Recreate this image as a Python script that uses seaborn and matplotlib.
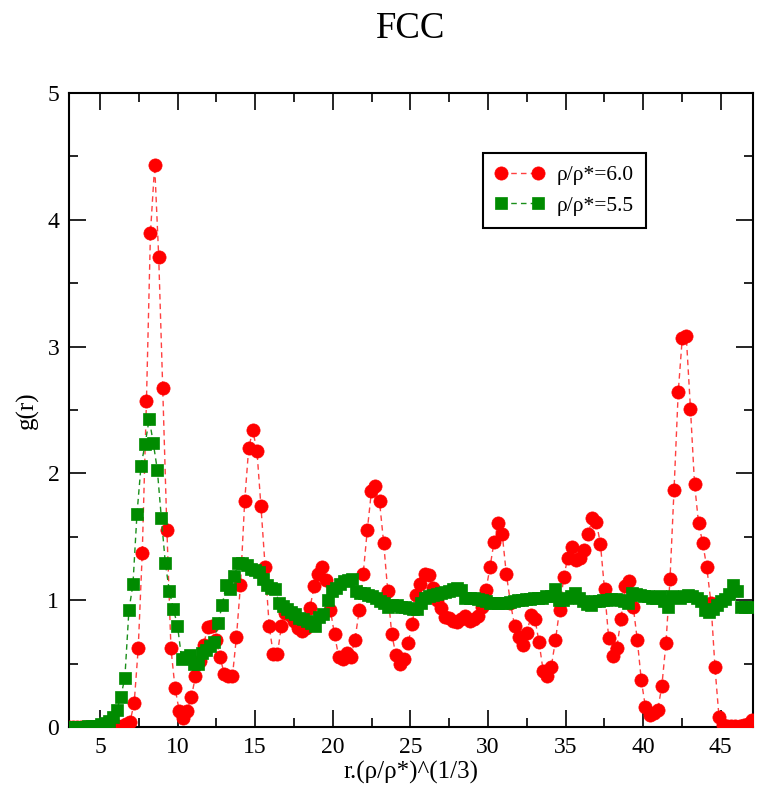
import matplotlib
matplotlib.use("Agg")
import matplotlib.pyplot as plt
import seaborn as sns
import pandas as pd

# ---- data ----
red_x = [2.98, 3.24, 3.51, 3.77, 4.03, 4.30, 4.56, 4.83, 5.09, 5.35,
         5.62, 5.88, 6.14, 6.41, 6.67, 6.93, 7.20, 7.46, 7.72, 7.99,
         8.25, 8.52, 8.78, 9.04, 9.31, 9.57, 9.83, 10.10, 10.36, 10.62,
         10.89, 11.15, 11.42, 11.68, 11.94, 12.21, 12.47, 12.74, 13.00, 13.26,
         13.53, 13.79, 14.05, 14.32, 14.58, 14.84, 15.11, 15.37, 15.64, 15.90,
         16.16, 16.43, 16.69, 16.95, 17.22, 17.48, 17.74, 18.01, 18.27, 18.53,
         18.80, 19.06, 19.32, 19.59, 19.85, 20.11, 20.38, 20.64, 20.90, 21.17,
         21.43, 21.70, 21.96, 22.22, 22.49, 22.75, 23.01, 23.28, 23.54, 23.80,
         24.07, 24.33, 24.60, 24.86, 25.12, 25.39, 25.65, 25.91, 26.18, 26.44,
         26.70, 26.97, 27.23, 27.49, 27.76, 28.02, 28.28, 28.55, 28.81, 29.08,
         29.34, 29.60, 29.87, 30.13, 30.39, 30.66, 30.92, 31.18, 31.45, 31.71,
         31.98, 32.24, 32.50, 32.77, 33.03, 33.29, 33.56, 33.82, 34.08, 34.35,
         34.61, 34.88, 35.14, 35.40, 35.67, 35.93, 36.19, 36.46, 36.72, 36.98,
         37.25, 37.51, 37.78, 38.04, 38.30, 38.57, 38.83, 39.09, 39.36, 39.62,
         39.88, 40.15, 40.41, 40.67, 40.94, 41.20, 41.47, 41.73, 41.99, 42.26,
         42.52, 42.78, 43.05, 43.31, 43.57, 43.84, 44.10, 44.37, 44.63, 44.89,
         45.16, 45.42, 45.68, 45.95, 46.21, 46.47, 46.74, 47.00]
red_y = [0.0, 0.0, 0.0, 0.0, 0.0, 0.0, 0.0, 0.0, 0.0, 0.0,
         0.0, 0.0, 0.005, 0.01, 0.02, 0.04, 0.19, 0.62, 1.37, 2.57,
         3.90, 4.43, 3.71, 2.67, 1.55, 0.62, 0.31, 0.13, 0.07, 0.13,
         0.24, 0.40, 0.52, 0.65, 0.79, 0.80, 0.69, 0.55, 0.42, 0.40,
         0.40, 0.71, 1.12, 1.78, 2.20, 2.34, 2.18, 1.74, 1.26, 0.80,
         0.575, 0.575, 0.80, 0.90, 0.88, 0.84, 0.78, 0.76, 0.78, 0.94,
         1.11, 1.21, 1.26, 1.16, 0.92, 0.73, 0.555, 0.54, 0.586, 0.555,
         0.69, 0.92, 1.21, 1.55, 1.86, 1.90, 1.78, 1.45, 1.075, 0.73,
         0.57, 0.50, 0.54, 0.665, 0.81, 1.04, 1.13, 1.21, 1.20, 1.10,
         1.00, 0.94, 0.87, 0.857, 0.84, 0.83, 0.85, 0.875, 0.84, 0.85,
         0.875, 0.95, 1.08, 1.26, 1.46, 1.61, 1.52, 1.21, 0.98, 0.80,
         0.71, 0.65, 0.74, 0.88, 0.85, 0.67, 0.44, 0.40, 0.475, 0.686,
         0.92, 1.18, 1.335, 1.42, 1.32, 1.33, 1.40, 1.52, 1.645, 1.62,
         1.44, 1.086, 0.70, 0.56, 0.625, 0.85, 1.11, 1.15, 0.95, 0.69,
         0.37, 0.155, 0.095, 0.11, 0.134, 0.32, 0.66, 1.165, 1.87, 2.64,
         3.065, 3.08, 2.51, 1.92, 1.61, 1.45, 1.26, 0.98, 0.47, 0.076,
         0.016, 0.01, 0.01, 0.01, 0.01, 0.015, 0.025, 0.055]

green_x = [2.94, 3.20, 3.46, 3.72, 3.99, 4.25, 4.51, 4.77, 5.03, 5.29,
           5.55, 5.81, 6.08, 6.34, 6.60, 6.86, 7.12, 7.38, 7.64, 7.90,
           8.17, 8.43, 8.69, 8.95, 9.21, 9.47, 9.73, 9.99, 10.26, 10.52,
           10.78, 11.04, 11.30, 11.56, 11.82, 12.09, 12.35, 12.61, 12.87, 13.13,
           13.39, 13.65, 13.91, 14.18, 14.44, 14.70, 14.96, 15.22, 15.48, 15.74,
           16.01, 16.27, 16.53, 16.79, 17.05, 17.31, 17.57, 17.83, 18.10, 18.36,
           18.62, 18.88, 19.14, 19.40, 19.66, 19.92, 20.19, 20.45, 20.71, 20.97,
           21.23, 21.49, 21.75, 22.01, 22.28, 22.54, 22.80, 23.06, 23.32, 23.58,
           23.84, 24.11, 24.37, 24.63, 24.89, 25.15, 25.41, 25.67, 25.93, 26.20,
           26.46, 26.72, 26.98, 27.24, 27.50, 27.76, 28.02, 28.29, 28.55, 28.81,
           29.07, 29.33, 29.59, 29.85, 30.12, 30.38, 30.64, 30.90, 31.16, 31.42,
           31.68, 31.94, 32.21, 32.47, 32.73, 32.99, 33.25, 33.51, 33.77, 34.03,
           34.30, 34.56, 34.82, 35.08, 35.34, 35.60, 35.86, 36.13, 36.39, 36.65,
           36.91, 37.17, 37.43, 37.69, 37.95, 38.22, 38.48, 38.74, 39.00, 39.26,
           39.52, 39.78, 40.05, 40.31, 40.57, 40.83, 41.09, 41.35, 41.61, 41.87,
           42.14, 42.40, 42.66, 42.92, 43.18, 43.44, 43.70, 43.96, 44.23, 44.49,
           44.75, 45.01, 45.27, 45.53, 45.79, 46.06, 46.32, 46.58, 46.84]
green_y = [0.0, 0.0, 0.0, 0.0, 0.0, 0.005, 0.005, 0.01, 0.02, 0.03,
           0.05, 0.08, 0.134, 0.24, 0.39, 0.92, 1.125, 1.68, 2.06, 2.23,
           2.43, 2.24, 2.03, 1.65, 1.29, 1.07, 0.93, 0.80, 0.54, 0.555,
           0.57, 0.50, 0.50, 0.58, 0.61, 0.64, 0.67, 0.82, 0.96, 1.12,
           1.09, 1.19, 1.29, 1.29, 1.28, 1.25, 1.24, 1.225, 1.17, 1.12,
           1.10, 1.09, 0.98, 0.955, 0.93, 0.91, 0.89, 0.86, 0.85, 0.84,
           0.82, 0.80, 0.87, 0.89, 1.00, 1.07, 1.10, 1.13, 1.15, 1.16,
           1.17, 1.07, 1.055, 1.055, 1.04, 1.03, 1.02, 0.99, 0.975, 0.95,
           0.96, 0.96, 0.95, 0.945, 0.94, 0.93, 0.93, 0.98, 1.015, 1.03,
           1.04, 1.05, 1.06, 1.067, 1.075, 1.085, 1.094, 1.08, 1.02, 1.02,
           1.02, 1.01, 1.00, 0.99, 0.98, 0.975, 0.975, 0.975, 0.98, 0.985,
           0.99, 1.00, 1.005, 1.01, 1.01, 1.015, 1.015, 1.015, 1.03, 1.03,
           1.086, 1.00, 1.00, 1.015, 1.03, 1.054, 1.015, 0.99, 0.97, 0.96,
           0.99, 0.99, 1.00, 1.005, 1.007, 1.007, 1.00, 0.99, 0.975, 1.06,
           1.05, 1.04, 1.03, 1.03, 1.015, 1.02, 1.03, 0.99, 0.945, 1.03,
           1.025, 1.02, 1.03, 1.04, 1.035, 1.02, 0.99, 0.92, 0.91, 0.93,
           0.96, 0.99, 1.01, 1.05, 1.12, 1.07, 0.95, 0.95, 0.95]

labels = ["ρ/ρ*=6.0", "ρ/ρ*=5.5"]
x_ticks = [5, 10, 15, 20, 25, 30, 35, 40, 45]
y_ticks = [0, 1, 2, 3, 4, 5]

# ---- styling ----
sns.set_style("ticks")
plt.rcParams["font.family"] = ["Liberation Serif", "DejaVu Serif"]
plt.rcParams["text.color"] = "black"
plt.rcParams["axes.labelcolor"] = "black"

fig = plt.figure(figsize=(7.6, 7.87), dpi=100)
ax_rect = [0.0908, 0.0762, 0.900, 0.8056]
ax = fig.add_axes(ax_rect)

red_df = pd.DataFrame({"x": red_x, "y": red_y})
green_df = pd.DataFrame({"x": green_x, "y": green_y})

sns.lineplot(data=red_df, x="x", y="y", ax=ax, sort=False, errorbar=None,
             color="#ff4040", linestyle=(0, (4, 3)), linewidth=1.0,
             marker="o", markersize=9.5, markerfacecolor="#ff0000",
             markeredgecolor="#ff0000", markeredgewidth=0.5, label=labels[0],
             clip_on=True, zorder=3)
sns.lineplot(data=green_df, x="x", y="y", ax=ax, sort=False, errorbar=None,
             color="#1a8f1a", linestyle=(0, (4, 3)), linewidth=1.0,
             marker="s", markersize=8.0, markerfacecolor="#008b00",
             markeredgecolor="#008b00", markeredgewidth=0.5, label=labels[1],
             clip_on=True, zorder=4)

ax.set_xlim(3.0, 47.08)
ax.set_ylim(0, 5)
ax.set_xticks(x_ticks)
ax.set_yticks(y_ticks)
ax.set_xticks([x + 2.5 for x in [0] + x_ticks if 3 < x + 2.5 < 47.08], minor=True)
ax.set_yticks([0.5, 1.5, 2.5, 3.5, 4.5], minor=True)
ax.tick_params(which="both", direction="in", top=True, right=True,
               labelsize=17, width=1.2, colors="black")
ax.tick_params(which="major", length=12.5, pad=7)
ax.tick_params(which="minor", length=6.2)
for s in ax.spines.values():
    s.set_linewidth(1.5)
    s.set_color("black")

ax.set_xlabel("r.(ρ/ρ*)^(1/3)", fontsize=18, labelpad=2, color="black")
ax.set_ylabel("g(r)", fontsize=18, labelpad=6, color="black")
fig.text(ax_rect[0] + ax_rect[2] / 2, 0.963, "FCC", fontsize=26.5,
         ha="center", va="center", color="black")

leg = ax.legend(loc="upper left", bbox_to_anchor=(0.605, 0.905), fontsize=15.5,
                frameon=True, fancybox=False, framealpha=1, edgecolor="black",
                numpoints=2, handlelength=2.3, borderpad=0.55, labelspacing=0.5,
                handletextpad=0.6, borderaxespad=0)
leg.get_frame().set_linewidth(1.5)
for t in leg.get_texts():
    t.set_color("black")

fig.savefig("out.png", dpi=100)
